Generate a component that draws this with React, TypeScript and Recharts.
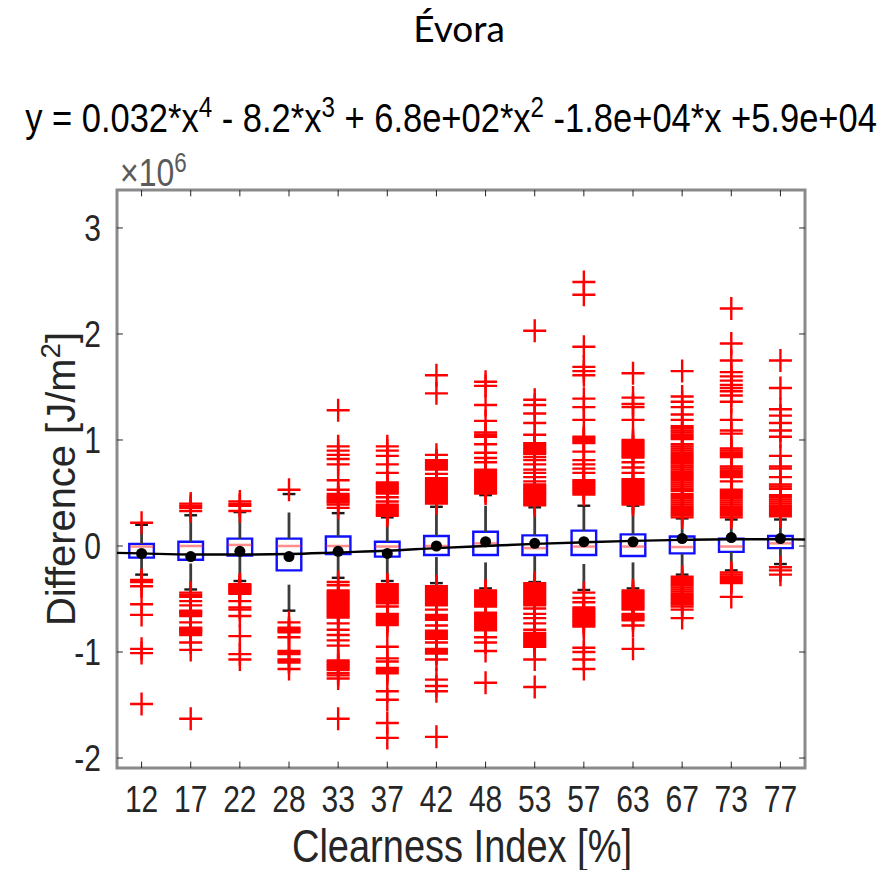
import React from 'react';
import { ComposedChart, XAxis, YAxis, Scatter, Line, ReferenceArea, ReferenceLine } from 'recharts';

// Clearness index classes (%)
const categories = ['12', '17', '22', '28', '33', '37', '42', '48', '53', '57', '63', '67', '73', '77'];

// box statistics, units of 1e6 J/m2
const q1 = [-0.11, -0.13, -0.09, -0.23, -0.075, -0.10, -0.085, -0.085, -0.085, -0.085, -0.095, -0.07, -0.055, -0.02];
const q3 = [0.02, 0.04, 0.07, 0.07, 0.09, 0.04, 0.095, 0.135, 0.10, 0.145, 0.11, 0.09, 0.07, 0.095];
const medians = [-0.005, 0.0, 0.01, 0.0, 0.0, -0.005, 0.0, 0.025, -0.02, -0.005, -0.005, -0.01, -0.005, 0.025];
const means = [-0.07, -0.10, -0.05, -0.10, -0.05, -0.07, 0.0, 0.04, 0.025, 0.04, 0.04, 0.07, 0.08, 0.07];
const lowerAdj = [-0.27, -0.41, -0.33, -0.61, -0.30, -0.33, -0.35, -0.40, -0.34, -0.415, -0.40, -0.27, -0.23, -0.17];
const upperAdj = [0.20, 0.29, 0.32, 0.49, 0.31, 0.27, 0.37, 0.48, 0.365, 0.38, 0.38, 0.26, 0.25, 0.25];

const outliers: number[][] = [
  [0.22, -0.32, -0.34, -0.38, -0.55, -0.65, -0.97, -1.01, -1.49],
  [0.40, 0.38, 0.36, 0.33, -0.44, -0.46, -0.48, -0.52, -0.56, -0.61, -0.62, -0.63, -0.645, -0.66, -0.72, -0.77, -0.78, -0.79, -0.80, -0.81, -0.82, -0.84, -0.91, -0.98, -1.63],
  [0.42, 0.395, 0.38, 0.33, -0.36, -0.37, -0.38, -0.39, -0.40, -0.41, -0.42, -0.43, -0.44, -0.45, -0.52, -0.58, -0.60, -0.66, -0.85, -1.02, -1.07],
  [0.53, -0.72, -0.77, -0.785, -0.80, -0.815, -0.86, -0.99, -1.005, -1.02, -1.07, -1.085, -1.10, -1.16],
  [1.28, 0.94, 0.90, 0.86, 0.82, 0.77, 0.62, 0.53, 0.49, 0.47, 0.455, 0.44, 0.425, 0.41, 0.39, 0.36,
    -0.34, -0.37, -0.42, -0.435, -0.45, -0.465, -0.48, -0.495, -0.51, -0.525, -0.54, -0.555, -0.57, -0.585, -0.60, -0.615, -0.63, -0.645, -0.66, -0.675,
    -0.73, -0.79, -0.84, -0.89, -0.94, -1.08, -1.095, -1.11, -1.125, -1.14, -1.155, -1.17, -1.20, -1.22, -1.25, -1.63],
  [0.94, 0.90, 0.85, 0.77, 0.69, 0.60, 0.585, 0.57, 0.555, 0.54, 0.525, 0.51, 0.495, 0.46, 0.42, 0.39, 0.375, 0.36, 0.345, 0.33, 0.315, 0.30, 0.285,
    -0.36, -0.375, -0.39, -0.405, -0.42, -0.435, -0.45, -0.465, -0.48, -0.495, -0.51, -0.525, -0.54, -0.57,
    -0.64, -0.655, -0.67, -0.685, -0.70, -0.715, -0.73, -0.745, -0.95, -1.06, -1.09, -1.15, -1.165, -1.18, -1.20, -1.37, -1.45, -1.67, -1.81],
  [1.61, 1.44, 0.86, 0.81, 0.795, 0.78, 0.765, 0.75, 0.735, 0.72, 0.68, 0.64, 0.625, 0.61, 0.595, 0.58, 0.565, 0.55, 0.535, 0.52, 0.505, 0.49, 0.475, 0.46, 0.445, 0.43, 0.415, 0.40,
    -0.38, -0.395, -0.41, -0.425, -0.44, -0.455, -0.47, -0.485, -0.50, -0.515, -0.53, -0.545, -0.56, -0.60, -0.65, -0.665, -0.68, -0.695, -0.75,
    -0.80, -0.815, -0.83, -0.845, -0.86, -0.875, -0.91, -0.97, -0.985, -1.00, -1.015, -1.07, -1.26, -1.32, -1.37, -1.80],
  [1.55, 1.51, 1.33, 1.18, 1.07, 1.05, 1.03, 0.96, 0.88, 0.83, 0.79, 0.72, 0.705, 0.69, 0.675, 0.66, 0.645, 0.63, 0.615, 0.60, 0.585, 0.57, 0.555, 0.54, 0.525, 0.51, 0.495,
    -0.42, -0.435, -0.45, -0.465, -0.48, -0.495, -0.51, -0.525, -0.54, -0.555, -0.57, -0.63, -0.645, -0.66, -0.675, -0.69, -0.705, -0.72, -0.735, -0.75, -0.765, -0.78, -0.795,
    -0.86, -0.91, -0.99, -1.29],
  [2.03, 1.38, 1.33, 1.25, 1.16, 1.05, 0.97, 0.955, 0.94, 0.925, 0.91, 0.895, 0.88, 0.87, 0.84, 0.81, 0.77, 0.72, 0.69, 0.65, 0.61,
    0.58, 0.565, 0.55, 0.535, 0.52, 0.505, 0.49, 0.475, 0.46, 0.445, 0.43, 0.415, 0.40, 0.385,
    -0.35, -0.365, -0.38, -0.395, -0.41, -0.425, -0.44, -0.455, -0.47, -0.485, -0.50, -0.515, -0.53, -0.545, -0.56, -0.59, -0.64, -0.68, -0.73, -0.79,
    -0.82, -0.835, -0.85, -0.865, -0.88, -0.895, -0.91, -0.925, -0.94, -0.95, -1.07, -1.33],
  [2.49, 2.37, 1.88, 1.69, 1.65, 1.61, 1.39, 1.31, 1.19, 1.03, 1.015, 1.00, 0.985, 0.97, 0.89, 0.81, 0.77, 0.73, 0.69,
    0.62, 0.605, 0.59, 0.575, 0.56, 0.545, 0.53, 0.515, 0.50, 0.485,
    -0.44, -0.49, -0.53, -0.58, -0.595, -0.61, -0.625, -0.64, -0.655, -0.67, -0.685, -0.70, -0.715, -0.73, -0.745, -0.76, -0.96, -1.00, -1.07, -1.16],
  [1.63, 1.40, 1.34, 1.31, 1.19, 1.00, 0.985, 0.97, 0.955, 0.94, 0.925, 0.91, 0.895, 0.88, 0.865, 0.85, 0.835, 0.79, 0.74, 0.69,
    0.63, 0.615, 0.60, 0.585, 0.57, 0.555, 0.54, 0.525, 0.51, 0.495, 0.48, 0.465, 0.45, 0.435, 0.42, 0.405, 0.39,
    -0.42, -0.435, -0.45, -0.465, -0.48, -0.495, -0.51, -0.525, -0.54, -0.555, -0.57, -0.585, -0.60, -0.64, -0.655, -0.67, -0.685, -0.70, -0.75, -0.97],
  [1.65, 1.41, 1.36, 1.31, 1.24, 1.19, 1.13, 1.11, 1.09, 1.07, 1.05, 1.03, 1.01, 0.96, 0.94, 0.92, 0.90, 0.88, 0.86, 0.84, 0.82, 0.80, 0.78, 0.76, 0.74,
    0.72, 0.70, 0.68, 0.66, 0.64, 0.62, 0.60, 0.58, 0.56, 0.54, 0.52, 0.49, 0.47, 0.45, 0.43, 0.41, 0.39, 0.37, 0.35, 0.33, 0.31, 0.29, 0.27,
    -0.29, -0.31, -0.33, -0.35, -0.37, -0.39, -0.41, -0.43, -0.45, -0.47, -0.49, -0.51, -0.53, -0.55, -0.57, -0.60, -0.68],
  [2.24, 1.91, 1.75, 1.64, 1.60, 1.56, 1.52, 1.49, 1.46, 1.42, 1.36, 1.19, 1.09, 1.06, 0.92, 0.90, 0.88, 0.86, 0.84, 0.75, 0.73, 0.71, 0.69, 0.67, 0.65, 0.61,
    0.53, 0.51, 0.49, 0.47, 0.45, 0.43, 0.41, 0.39, 0.37, 0.35, 0.33, 0.31, 0.29, 0.27,
    -0.25, -0.27, -0.29, -0.31, -0.33, -0.35, -0.48],
  [1.75, 1.49, 1.29, 1.23, 1.16, 1.09, 1.03, 0.85, 0.75, 0.73, 0.65, 0.58, 0.56, 0.54, 0.48, 0.46, 0.44, 0.42, 0.40, 0.38, 0.36, 0.34, 0.32, 0.30, 0.28,
    -0.20, -0.23, -0.27],
];

// fitted polynomial (x = class position)
const fitX = [0.5, 1, 2, 3, 4, 5, 6, 7, 8, 9, 10, 11, 12, 13, 14, 14.5];
const fitY = [-0.065, -0.07, -0.08, -0.08, -0.075, -0.06, -0.045, -0.02, 0.0, 0.02, 0.035, 0.048, 0.058, 0.063, 0.063, 0.062];

const yTicks = [-2, -1, 0, 1, 2, 3];
const Y_MIN = -2.094;
const Y_MAX = 3.358;

const outlierData = outliers.flatMap((vals, i) => vals.map((v) => ({ x: i + 1, y: v })));
const meanData = means.map((m, i) => ({ x: i + 1, y: m }));
const fitData = fitX.map((x, i) => ({ x, y: fitY[i] }));
const xTicks = categories.map((_, i) => i + 1);

const FONT = '"Liberation Sans", Arial, Helvetica, sans-serif';
const STRETCH = 1.2; // text in the figure is drawn a bit taller than wide

const PlusMarker = (props: any) => {
  const { cx, cy } = props;
  if (cx == null || cy == null) return null;
  const r = 11.5;
  return (
    <path
      d={`M${cx - r},${cy}H${cx + r}M${cx},${cy - r}V${cy + r}`}
      stroke="#ff0000"
      strokeWidth={2.4}
      fill="none"
    />
  );
};

const MeanDot = (props: any) => {
  const { cx, cy } = props;
  if (cx == null || cy == null) return null;
  return <circle cx={cx} cy={cy} r={5.5} fill="#000" />;
};

const XTick = (props: any) => {
  const { x, y, payload } = props;
  return (
    <text transform={`translate(${x},${y + 44}) scale(1,${STRETCH})`} textAnchor="middle" fontSize={30} fontFamily={FONT} fill="#262626">
      {categories[payload.value - 1]}
    </text>
  );
};

const YTick = (props: any) => {
  const { x, y, payload } = props;
  return (
    <text transform={`translate(${x - 16},${y + 13}) scale(1,${STRETCH})`} textAnchor="end" fontSize={30} fontFamily={FONT} fill="#262626">
      {payload.value}
    </text>
  );
};

const supStyle: React.CSSProperties = { fontSize: '0.7em' };

export default function App() {
  return (
    <div style={{ position: 'absolute', left: 0, top: 0, width: 884, height: 870, background: '#fff', fontFamily: FONT, color: '#262626' }}>
      <div style={{ position: 'absolute', left: 359, top: 6, width: 200, textAlign: 'center', fontFamily: 'Lato, "Open Sans", sans-serif', fontSize: 37, lineHeight: '44px', color: '#000' }}>
        Évora
      </div>
      <div style={{ position: 'absolute', left: 0, top: 88, width: 902, textAlign: 'center', fontSize: 34.5, lineHeight: '40px', color: '#000', whiteSpace: 'pre', transform: `scaleY(${STRETCH})` }}>
        y = 0.032*x<sup style={supStyle}>4</sup> - 8.2*x<sup style={supStyle}>3</sup> + 6.8e+02*x<sup style={supStyle}>2</sup> -1.8e+04*x +5.9e+04
      </div>
      <div style={{ position: 'absolute', left: 120, top: 146, fontSize: 32, lineHeight: '36px', color: '#5a5a5a', whiteSpace: 'pre', transform: `scaleY(${STRETCH})` }}>
        ×10<sup style={supStyle}>6</sup>
      </div>
      <div style={{ position: 'absolute', left: 462 - 200, top: 826, width: 400, textAlign: 'center', fontSize: 38, lineHeight: '40px', transform: `scaleY(${STRETCH})` }}>
        Clearness Index [%]
      </div>
      <div style={{ position: 'absolute', left: 51 - 200, top: 479 - 20, width: 400, height: 40, textAlign: 'center', fontSize: 38, lineHeight: '40px', transform: `rotate(-90deg) scaleX(1.05) scaleY(1.05)` }}>
        Difference [J/m<sup style={supStyle}>2</sup>]
      </div>

      <ComposedChart width={884} height={870} margin={{ top: 190, right: 79, bottom: 0, left: 0 }} style={{ position: 'absolute', left: 0, top: 0 }}>
        <XAxis
          dataKey="x"
          type="number"
          domain={[0.5, 14.5]}
          ticks={xTicks}
          height={102}
          axisLine={false}
          tickLine={false}
          tickSize={0}
          tickMargin={0}
          interval={0}
          tick={<XTick />}
        />
        <YAxis
          dataKey="y"
          type="number"
          domain={[Y_MIN, Y_MAX]}
          ticks={yTicks}
          width={117}
          axisLine={false}
          tickLine={false}
          tickSize={0}
          tickMargin={0}
          tick={<YTick />}
        />

        {/* axes frame */}
        <ReferenceArea x1={0.5} x2={14.5} y1={Y_MIN} y2={Y_MAX} fill="none" fillOpacity={0} stroke="#8a8a8a" strokeWidth={3} />
        {xTicks.map((x) => (
          <ReferenceLine key={`tb${x}`} segment={[{ x, y: Y_MIN }, { x, y: Y_MIN + 0.06 }]} stroke="#262626" strokeWidth={1} />
        ))}
        {xTicks.map((x) => (
          <ReferenceLine key={`tt${x}`} segment={[{ x, y: Y_MAX }, { x, y: Y_MAX - 0.06 }]} stroke="#262626" strokeWidth={1} />
        ))}
        {yTicks.map((y) => (
          <ReferenceLine key={`tl${y}`} segment={[{ x: 0.5, y }, { x: 0.62, y }]} stroke="#262626" strokeWidth={1} />
        ))}
        {yTicks.map((y) => (
          <ReferenceLine key={`tr${y}`} segment={[{ x: 14.5, y }, { x: 14.38, y }]} stroke="#262626" strokeWidth={1} />
        ))}

        {/* whiskers and caps */}
        {categories.map((_, i) => (
          <ReferenceLine key={`wu${i}`} segment={[{ x: i + 1, y: q3[i] }, { x: i + 1, y: upperAdj[i] }]} stroke="#3c3c3c" strokeWidth={2.8} strokeDasharray="26 18" />
        ))}
        {categories.map((_, i) => (
          <ReferenceLine key={`wl${i}`} segment={[{ x: i + 1, y: lowerAdj[i] }, { x: i + 1, y: q1[i] }]} stroke="#3c3c3c" strokeWidth={2.8} strokeDasharray="26 18" />
        ))}
        {categories.map((_, i) => (
          <ReferenceLine key={`cu${i}`} segment={[{ x: i + 0.87, y: upperAdj[i] }, { x: i + 1.13, y: upperAdj[i] }]} stroke="#1a1a1a" strokeWidth={2.4} />
        ))}
        {categories.map((_, i) => (
          <ReferenceLine key={`cl${i}`} segment={[{ x: i + 0.87, y: lowerAdj[i] }, { x: i + 1.13, y: lowerAdj[i] }]} stroke="#1a1a1a" strokeWidth={2.4} />
        ))}

        {/* outliers */}
        <Scatter data={outlierData} dataKey="y" shape={<PlusMarker />} isAnimationActive={false} />

        {/* boxes and medians */}
        {categories.map((_, i) => (
          <ReferenceArea key={`b${i}`} x1={i + 0.75} x2={i + 1.25} y1={q1[i]} y2={q3[i]} fill="#ffffff" fillOpacity={0.15} stroke="#1010ff" strokeWidth={2.4} />
        ))}
        {categories.map((_, i) => (
          <ReferenceLine key={`m${i}`} segment={[{ x: i + 0.76, y: medians[i] }, { x: i + 1.24, y: medians[i] }]} stroke="#ff3030" strokeOpacity={0.55} strokeWidth={2.5} />
        ))}

        {/* fitted polynomial and class means */}
        <Line data={fitData} dataKey="y" type="monotone" stroke="#000" strokeWidth={2.4} dot={false} activeDot={false} isAnimationActive={false} />
        <Scatter data={meanData} dataKey="y" shape={<MeanDot />} isAnimationActive={false} />
      </ComposedChart>
    </div>
  );
}
